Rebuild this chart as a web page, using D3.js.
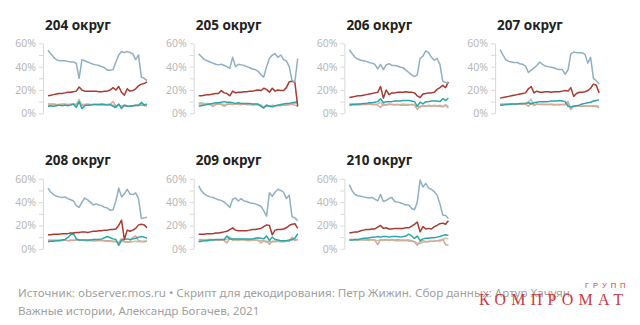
<!DOCTYPE html>
<html>
<head>
<meta charset="utf-8">
<script src="https://cdn.jsdelivr.net/npm/d3@7"></script>
<style>
  html, body { margin: 0; padding: 0; background: #fff; }
  svg { display: block; }
</style>
</head>
<body>
<svg id="chart" width="640" height="325"></svg>
<script>
// Districts shown as small multiples
const districts = ["204 округ", "205 округ", "206 округ", "207 округ", "208 округ", "209 округ", "210 округ"];

// Percent axis
const yTicks = [0, 10, 20, 30, 40, 50, 60];
const yLabels = ["0%", "", "20%", "", "40%", "", "60%"];

// Series values (share, %) per district, in time order
const blue204 = [54, 51, 48, 46, 45, 45, 45, 44.5, 44, 44, 43, 30, 46, 45, 44, 43, 42, 41.5, 41, 40, 39, 37, 37, 37.5, 44, 50, 53, 52, 53, 52, 51, 46, 50, 31, 30, 28];
const red204 = [15, 15.5, 16, 16.5, 17, 17, 17.5, 18, 18, 18.5, 19, 22.5, 20, 19, 19, 19, 19, 19, 18.5, 18.5, 19, 19, 20, 22, 20, 23, 18, 15.5, 21, 19, 19.5, 21, 23.5, 25, 25.5, 27];
const teal204 = [6, 6.5, 6, 6.5, 7, 6.5, 7, 6.5, 7, 8, 5, 10, 4, 6.5, 7, 7, 7.5, 7.5, 7.5, 8, 7.5, 7, 7.5, 6, 5, 8, 4, 7, 6, 6, 6.5, 7, 6.5, 9.5, 7, 8];
const pink204 = [8, 8, 8, 7.5, 7.5, 8, 8, 7.5, 8, 7.5, 8, 9, 7.5, 7.5, 8, 7.5, 7.5, 7.5, 7.5, 7, 7.5, 7.5, 8, 10, 6.5, 7, 6, 6.5, 6, 6, 6, 6.5, 7, 7, 6.5, 6];
const green204 = [7, 7, 7.5, 7, 7.5, 7, 7.5, 7, 7.5, 8, 7, 12, 6.5, 7, 7, 7, 7.5, 7.5, 7, 7.5, 7, 7.5, 7.5, 7, 6, 7, 6, 7, 6.5, 6.5, 6.5, 7, 7.5, 8, 7.5, 7];

const blue205 = [51, 48.5, 46, 45, 44, 43, 42, 41.5, 42, 41, 40, 38.5, 48, 40, 42, 41.5, 41, 40, 39, 38, 37.5, 36, 33, 31, 40, 47, 50, 51, 48, 50, 46, 45, 40, 28, 27, 47];
const red205 = [15, 15, 15.5, 16, 16, 16.5, 17, 17, 19.5, 17.5, 17, 15, 19, 17.5, 18, 18, 18.5, 18.5, 19, 19, 19.5, 20, 19.5, 21.5, 20.5, 18, 21.5, 19, 20, 19.5, 19.5, 22, 27, 27.5, 26.5, 6];
const teal205 = [6, 6.5, 7, 7.5, 8, 8.5, 9, 9, 9.5, 10, 9.5, 9.5, 9, 8.5, 9, 8.5, 8.5, 8.5, 8.5, 8, 8, 8, 6, 4.5, 7, 6, 5.5, 6.5, 7, 7.5, 8, 8.5, 8.5, 9, 9.5, 10];
const pink205 = [8, 8, 7.5, 8, 7.5, 6, 7.5, 8, 7.5, 6, 7.5, 8, 7.5, 8, 8, 7.5, 8, 7.5, 7.5, 7.5, 7.5, 7, 7, 5, 6.5, 6, 7, 6.5, 6.5, 6.5, 7, 7, 7.5, 7.5, 7, 6];
const green205 = [9, 9, 8.5, 8.5, 8, 7.5, 8, 8.5, 8, 7.5, 8, 8, 7.5, 8, 7.5, 7.5, 8, 7.5, 7.5, 7, 7.5, 7.5, 7, 5.5, 7, 6, 6.5, 6.5, 7, 7, 7, 7.5, 7.5, 8, 8.5, 9];

const blue206 = [54.5, 51, 48, 46.5, 45.5, 45, 44.5, 43.5, 43, 42, 38, 42, 37.5, 41.5, 42.5, 41, 41, 40.5, 39.5, 39, 37, 35, 33, 31.5, 33, 47, 49, 53.5, 52, 48, 45.5, 47, 42, 27.5, 26.5, 26];
const red206 = [13.5, 14, 14.5, 15, 15, 15.5, 16, 16.5, 17, 17.5, 18, 23, 13, 20, 16, 17.5, 17.5, 18, 18, 18, 18.5, 18, 18, 17.5, 15, 13.5, 16.5, 17, 17.5, 17.5, 18, 20.5, 22, 24, 22, 27];
const teal206 = [7, 7.5, 7.5, 8, 8, 8.5, 8.5, 9, 9, 9.5, 10, 12.5, 9, 10, 10, 10, 10.5, 10.5, 10.5, 11, 11, 11, 10.5, 10, 6, 9.5, 8, 10, 10, 10.5, 10.5, 10.5, 10, 12.5, 11, 13];
const pink206 = [8, 8, 8, 7.5, 7.5, 8, 7.5, 8, 7.5, 7.5, 7, 5, 8, 7, 7.5, 7.5, 7, 7.5, 7, 7, 7, 7, 7.5, 7, 3.5, 6, 6.5, 6, 6.5, 6, 6.5, 6, 6, 5.5, 7, 4.5];
const green206 = [7, 7, 7.5, 7, 7.5, 7.5, 7.5, 8, 7.5, 7.5, 8, 9.5, 6.5, 7.5, 8, 7.5, 7.5, 7.5, 7.5, 8, 7.5, 7.5, 7.5, 7, 6, 5, 6.5, 6, 7, 6.5, 7, 6.5, 7, 6, 7.5, 6];

const blue207 = [54.5, 50, 46, 44.5, 44, 43.5, 43.5, 42.5, 42, 40.5, 35, 37, 39, 41, 44, 42, 40.5, 40, 39.5, 39, 38, 37.5, 37.5, 33.5, 37, 51, 52.5, 52, 52, 52, 50.5, 43, 48, 30, 28, 25];
const red207 = [13, 13.5, 14, 14.5, 15, 15.5, 16, 16.5, 17, 17.5, 21, 23, 17.5, 19, 18, 18, 18.5, 18.5, 18, 18.5, 18.5, 18.5, 19, 19.5, 19, 22, 14.5, 17, 18, 18, 18.5, 19.5, 21.5, 25, 24, 17.5];
const teal207 = [7, 7, 7.5, 7.5, 8, 8, 8, 8.5, 8.5, 8.5, 9, 8, 9, 9.5, 10, 10, 10, 10, 10.5, 10.5, 10.5, 11, 10.5, 10, 6, 5.5, 6, 6.5, 7, 8, 8.5, 9, 9.5, 10.5, 11, 11.5];
const pink207 = [7.5, 7.5, 8, 8, 7.5, 8, 8, 7.5, 8, 8, 6, 9, 7, 8, 7.5, 7.5, 7.5, 7.5, 7.5, 7, 7.5, 7.5, 7.5, 8, 10, 4, 6.5, 6, 6.5, 6, 6.5, 6, 6, 6.5, 5.5, 5];
const green207 = [8, 8, 7.5, 8, 8, 7.5, 8, 8, 7.5, 8, 10, 12, 6.5, 8, 7.5, 8, 7.5, 7.5, 8, 7.5, 7.5, 7, 7.5, 7, 8.5, 3, 6, 6.5, 6, 6, 6.5, 6, 6.5, 6, 6.5, 6];

const blue208 = [52, 48.5, 46.5, 45, 44.5, 44, 44.5, 43, 42, 41, 37, 35.5, 40, 43.5, 42, 40, 37.5, 38.5, 37.5, 37, 35.5, 35, 33, 33.5, 41, 52, 44.5, 47, 51, 47, 46.5, 48, 43, 26, 26.5, 27];
const red208 = [12, 12, 12.5, 12.5, 12.5, 13, 13, 13, 13.5, 13.5, 14, 14, 14.5, 14.5, 14, 14.5, 15, 15, 15.5, 15.5, 16, 16, 16.5, 16.5, 17, 20, 24.5, 8, 16, 15, 16, 17.5, 20.5, 21, 20.5, 18];
const teal208 = [6, 6.5, 6.5, 7, 7, 7.5, 8, 9.5, 12, 13, 8.5, 7.5, 7.5, 7.5, 7.5, 7.5, 8, 8, 8, 8.5, 9.5, 10.5, 9.5, 8.5, 8, 3, 7.5, 8, 8.5, 8, 8.5, 9, 10, 10.5, 10, 9];
const pink208 = [7, 7, 7.5, 7, 7.5, 7.5, 7.5, 7, 7.5, 7, 7.5, 7.5, 7, 7.5, 7, 7.5, 7.5, 7, 7.5, 7.5, 7, 7, 7, 6.5, 6.5, 5, 9, 6, 5.5, 6.5, 10, 11, 7, 6.5, 6, 6.5];
const green208 = [7.5, 7.5, 7, 7.5, 7, 7, 7.5, 7, 7, 7.5, 7.5, 7, 7.5, 7, 7, 7, 6.5, 7, 7, 7, 6.5, 6.5, 6.5, 6, 6, 5.5, 6.5, 6, 6, 5.5, 6, 6.5, 6, 6, 6.5, 7];

const blue209 = [54, 49.5, 47, 45.5, 44.5, 44, 43, 42, 41.5, 40, 38, 35.5, 42.5, 43.5, 41, 43, 41, 40.5, 39.5, 39, 38.5, 37.5, 36.5, 32.5, 28, 48, 45, 48.5, 51, 50, 48.5, 43, 46, 27.5, 26.5, 24];
const red209 = [12.5, 12.5, 12.5, 13, 13, 13, 13.5, 13.5, 14, 14.5, 15, 16.5, 18, 16, 15.5, 15.5, 15.5, 15.5, 16, 16.5, 16.5, 17, 17.5, 19, 20.5, 20, 12, 16, 16.5, 16.5, 17, 18, 20, 21, 21.5, 17.5];
const teal209 = [6, 6.5, 7, 7, 7.5, 7.5, 8, 8, 8, 8, 11, 8.5, 8.5, 8.5, 8.5, 8.5, 8.5, 8.5, 8.5, 8.5, 9, 9.5, 9, 8.5, 11, 7, 10, 8, 7.5, 7, 7, 7, 7.5, 8, 9, 13];
const pink209 = [8, 8, 7.5, 8, 8, 8, 7.5, 7.5, 7.5, 7, 5, 9, 8.5, 8, 8, 8, 8, 7.5, 7.5, 7.5, 7.5, 7.5, 5, 7, 6.5, 4, 6.5, 6, 6.5, 6, 6, 6.5, 6.5, 10, 7, 8];
const green209 = [7, 7, 7.5, 7, 7, 7.5, 7.5, 7, 7.5, 7.5, 8, 10, 7, 7.5, 7, 7.5, 7.5, 7, 7, 7.5, 7.5, 7, 7, 6.5, 5.5, 6.5, 6, 6.5, 6.5, 6.5, 6.5, 7, 7, 7.5, 8, 8];

const blue210 = [55, 49.5, 46.5, 45.5, 45, 44.5, 44, 43.5, 44, 42.5, 41, 46.5, 40.5, 41.5, 43, 44, 40.5, 40, 39.5, 38.5, 37.5, 37.5, 34.5, 33.5, 40, 59, 53, 56, 52, 51, 49, 46, 38.5, 29, 28.5, 26];
const red210 = [13.5, 14, 14.5, 14.5, 15.5, 16, 16.5, 16.5, 17, 17, 18.5, 20, 17.5, 18, 17, 17, 17.5, 17.5, 17.5, 17.5, 18, 18, 19.5, 21, 23, 14.5, 19, 17, 17.5, 17, 19, 20, 21.5, 22, 21, 24];
const teal210 = [7.5, 7.5, 8, 8, 8.5, 9, 9, 9.5, 10, 10, 10.5, 10, 10.5, 10.5, 10, 10.5, 10.5, 10.5, 10, 10.5, 11, 12.5, 11, 9, 11, 7, 8.5, 9, 9, 9.5, 9.5, 10, 10.5, 11.5, 12, 11.5];
const pink210 = [8, 8, 8, 7.5, 8, 8, 7.5, 8, 8, 7.5, 3.5, 8, 7.5, 8, 7.5, 8, 7.5, 8, 7.5, 7.5, 7.5, 7.5, 7, 6, 3, 6, 7, 6, 6.5, 6.5, 6.5, 7, 6.5, 8, 3.5, 3];
const green210 = [7.5, 7.5, 7.5, 7, 7.5, 7.5, 7.5, 7, 7.5, 7.5, 7, 7.5, 7, 7.5, 7, 7.5, 7, 7, 7, 7, 7, 6.5, 6.5, 6, 5, 4.5, 5.5, 6, 6, 6.5, 6.5, 7, 7.5, 8, 9, 8.5];

// Draw order (back to front) and colours
const seriesNames = ["green", "pink", "teal", "red", "blue"];
const seriesColors = ["#b6caa8", "#d9a699", "#2aa6a8", "#a83a30", "#8fb0c4"];

const panelData = [
  [green204, pink204, teal204, red204, blue204],
  [green205, pink205, teal205, red205, blue205],
  [green206, pink206, teal206, red206, blue206],
  [green207, pink207, teal207, red207, blue207],
  [green208, pink208, teal208, red208, blue208],
  [green209, pink209, teal209, red209, blue209],
  [green210, pink210, teal210, red210, blue210]
];

const svg = d3.select("#chart");
const font = "'Noto Sans', 'Open Sans', sans-serif";

const colStep = 150.7, rowStep = 135.5;
const axisX0 = 43, plotTop = 43.3, plotH = 70;

const y = d3.scaleLinear().domain([0, 60]).range([plotH, 0]);

districts.forEach((name, i) => {
  const col = i % 4, row = Math.floor(i / 4);
  const ax = axisX0 + col * colStep;
  const top = plotTop + row * rowStep;
  const g = svg.append("g").attr("transform", `translate(${ax},${top})`);

  // Title
  g.append("text")
    .attr("x", 2).attr("y", -13.5)
    .attr("font-family", font).attr("font-weight", 700)
    .attr("font-size", 13.5).attr("fill", "#222")
    .text(name);

  // Y axis
  const axis = d3.axisLeft(y)
    .tickValues(yTicks)
    .tickSize(4).tickSizeOuter(0).tickPadding(3)
    .tickFormat((d, k) => yLabels[k]);
  const ag = g.append("g").call(axis);
  ag.select(".domain").attr("stroke", "#d8d8d8");
  ag.selectAll(".tick line").attr("stroke", "#d8d8d8");
  ag.selectAll(".tick text")
    .attr("fill", "#b8b8b8").attr("font-family", font).attr("font-size", 10.5);

  const data = panelData[i];
  const n = data[0].length;
  const x = d3.scaleLinear().domain([0, n - 1]).range([5, 104]);
  const line = d3.line().x((d, k) => x(k)).y(d => y(d));

  data.forEach((vals, s) => {
    g.append("path")
      .datum(vals)
      .attr("fill", "none")
      .attr("stroke", seriesColors[s])
      .attr("stroke-width", 1.5)
      .attr("stroke-linejoin", "round")
      .attr("d", line);
  });
});

// Source note
const note = svg.append("text")
  .attr("font-family", font).attr("font-size", 11.6).attr("fill", "#a0a0a0");
note.append("tspan").attr("x", 18).attr("y", 297)
  .text("Источник: observer.mos.ru • Скрипт для декодирования: Петр Жижин. Сбор данных: Артур Хачуян,");
note.append("tspan").attr("x", 18).attr("y", 315)
  .text("Важные истории, Александр Богачев, 2021");

// Publisher mark
svg.append("text")
  .attr("x", 479).attr("y", 305)
  .attr("font-family", "'Liberation Serif', 'DejaVu Serif', serif")
  .attr("font-size", 16).attr("letter-spacing", 5.2)
  .attr("fill", "#cc3a40")
  .text("КОМПРОМАТ");
svg.append("text")
  .attr("x", 585).attr("y", 288)
  .attr("font-family", "'Liberation Sans', sans-serif")
  .attr("font-size", 7.5).attr("letter-spacing", 4)
  .attr("fill", "#cc3a40")
  .text("ГРУПП");
</script>
</body>
</html>
